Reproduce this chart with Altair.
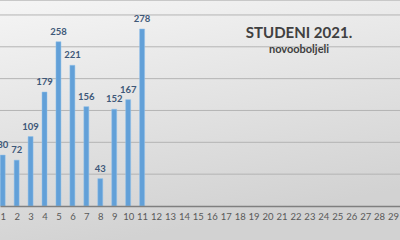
import altair as alt
import pandas as pd

days = [1, 2, 3, 4, 5, 6, 7, 8, 9, 10, 11]
cases = [80, 72, 109, 179, 258, 221, 156, 43, 152, 167, 278]
all_days = list(range(1, 30))
grid_values = [50, 100, 150, 200, 250, 300]
title_main = "STUDENI 2021."
title_sub = "novooboljeli"

df = pd.DataFrame({"day": days, "cases": cases})
gdf = pd.DataFrame({"g": grid_values})
one = pd.DataFrame({"a": [0]})

xscale = alt.Scale(domain=[0.806, 29.5], nice=False, zero=False, padding=0)
yscale = alt.Scale(domain=[0, 323.5], nice=False, padding=0)
xaxis = alt.Axis(values=all_days, format="d", grid=False, ticks=False,
                 domainColor="#7f7f7f", domainWidth=1.5,
                 labelColor="#595959", labelFont="Lato", labelFontSize=9.5,
                 labelPadding=5, title=None, labelFlush=False,
                 labelOverlap=False, zindex=1)

bg = alt.Chart(one).mark_rect(
    color=alt.Gradient(
        gradient="linear", x1=0, y1=0, x2=0.3, y2=1,
        stops=[alt.GradientStop(offset=0, color="#f5f5f5"),
               alt.GradientStop(offset=1, color="#d2d2d2")]
    )
).encode(x=alt.value(0), x2=alt.value(400), y=alt.value(0), y2=alt.value(240))

border = alt.Chart(one).mark_rule(color="#c8c8c8", strokeWidth=1).encode(
    x=alt.value(0), x2=alt.value(400), y=alt.value(0.5)
)

grid = alt.Chart(gdf).mark_rule(color="#b4b4b4", strokeWidth=1).encode(
    y=alt.Y("g:Q", scale=yscale, axis=None),
    x=alt.value(0), x2=alt.value(400),
)

bars = alt.Chart(df).mark_bar(size=5, color="#62a0d8", stroke="#93c2ea", strokeWidth=0.5).encode(
    x=alt.X("day:Q", scale=xscale, axis=xaxis),
    y=alt.Y("cases:Q", scale=yscale, axis=None),
)

labels = alt.Chart(df).mark_text(
    dy=-5, baseline="bottom", font="Lato", fontWeight="bold",
    fontSize=9.5, color="#3e5878"
).encode(
    x=alt.X("day:Q", scale=xscale, axis=xaxis),
    y=alt.Y("cases:Q", scale=yscale, axis=None),
    text="cases:Q",
)

t1 = alt.Chart(one).mark_text(
    text=title_main, font="Lato", fontWeight="bold", fontSize=15,
    color="#404040", align="center", baseline="middle"
).encode(x=alt.value(299), y=alt.value(33))

t2 = alt.Chart(one).mark_text(
    text=title_sub, font="Lato", fontWeight="bold", fontSize=11,
    color="#404040", align="center", baseline="middle"
).encode(x=alt.value(299), y=alt.value(50))

chart = alt.layer(bg, border, grid, bars, labels, t1, t2).properties(
    width=400, height=206,
    autosize=alt.AutoSizeParams(type="none"),
    padding={"left": 0, "top": 0, "right": 0, "bottom": 34},
).configure_view(stroke=None).configure(background="#e0e0e0").configure_axis(
    labelOverlap=False
)

chart.save("out.html", embed_options={"renderer": "svg", "actions": False})
